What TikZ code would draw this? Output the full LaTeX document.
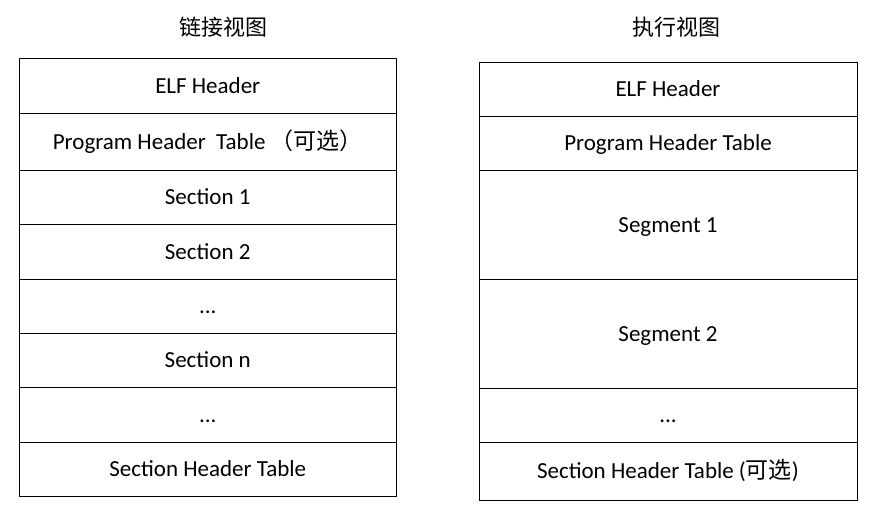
\documentclass[tikz,border=0pt]{standalone}
\usepackage{fontspec}
\setmainfont{Carlito}
\newfontfamily\cjk{Noto Sans CJK SC}
\begin{document}
\begin{tikzpicture}[x=1pt,y=-1pt,
  cell/.style={draw=black, line width=1pt, inner sep=0pt, outer sep=0pt,
    text height=14.8pt, text depth=0pt, font=\fontsize{23}{27}\selectfont},
  lcell/.style={cell, minimum width=377.5pt},
  rcell/.style={cell, minimum width=378pt},
  title/.style={font=\cjk\fontsize{22}{26}\selectfont, inner sep=0pt}]
\useasboundingbox (0,0) rectangle (877,515);
\fill[white] (0,0) rectangle (877,515);
% titles
\node[title] (tl) at (223,27) {链接视图};
\node[title] (tr) at (676,27) {执行视图};
% left column (link view)
\node[lcell, minimum height=55.5pt] (l1) at (207.75,85.75) {ELF Header};
\node[lcell, minimum height=57pt] (l2) at (207.75,142) {Program Header\ \ Table {\cjk （可选）}};
\node[lcell, minimum height=54pt] (l3) at (207.75,197.5) {Section 1};
\node[lcell, minimum height=54.5pt] (l4) at (207.75,251.75) {Section 2};
\node[lcell, minimum height=54.5pt] (l5) at (207.75,306.25) {...};
\node[lcell, minimum height=54pt] (l6) at (207.75,360.5) {Section n};
\node[lcell, minimum height=54.8pt] (l7) at (207.75,414.9) {...};
\node[lcell, minimum height=54pt] (l8) at (207.75,469.3) {Section Header Table};
% right column (execution view)
\node[rcell, minimum height=54.5pt] (r1) at (668,89.25) {ELF Header};
\node[rcell, minimum height=54pt] (r2) at (668,143.5) {Program Header Table};
\node[rcell, minimum height=108.5pt] (r3) at (668,224.75) {Segment 1};
\node[rcell, minimum height=109.3pt] (r4) at (668,333.65) {Segment 2};
\node[rcell, minimum height=54pt] (r5) at (668,415.3) {...};
\node[rcell, minimum height=57.7pt] (r6) at (668,471.15) {Section Header Table ({\cjk 可选})};
\end{tikzpicture}
\end{document}
